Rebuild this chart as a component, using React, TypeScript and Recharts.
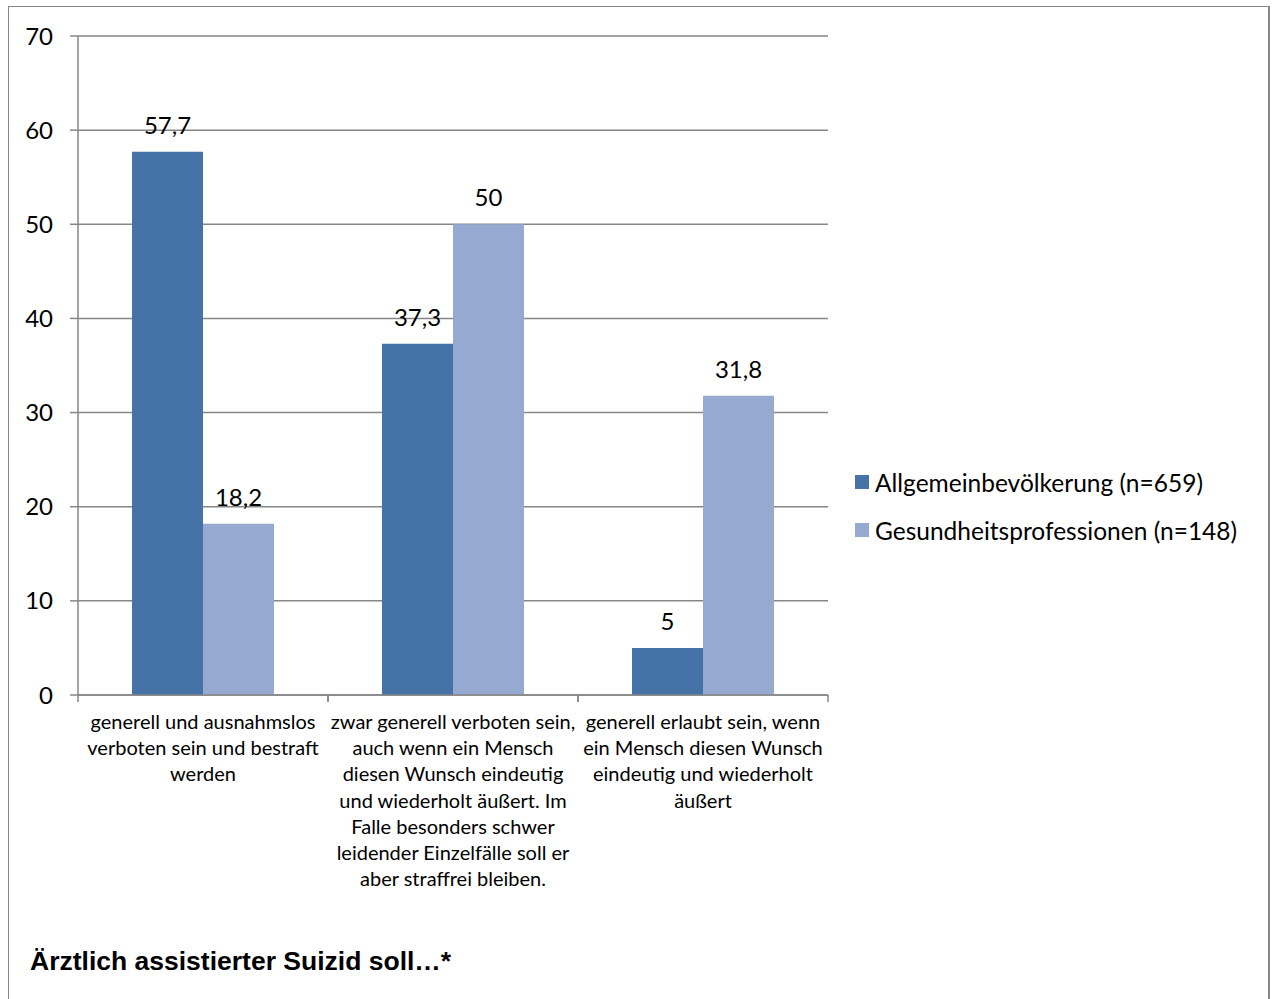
import React from 'react';
import { BarChart, Bar, XAxis, YAxis, CartesianGrid, LabelList } from 'recharts';

const categories = [
  'generell und ausnahmslos\nverboten sein und bestraft\nwerden',
  'zwar generell verboten sein,\nauch wenn ein Mensch\ndiesen Wunsch eindeutig\nund wiederholt äußert. Im\nFalle besonders schwer\nleidender Einzelfälle soll er\naber straffrei bleiben.',
  'generell erlaubt sein, wenn\nein Mensch diesen Wunsch\neindeutig und wiederholt\näußert',
];
const allgemein = [57.7, 37.3, 5];
const gesundheit = [18.2, 50, 31.8];
const yTicks = [0, 10, 20, 30, 40, 50, 60, 70];
const seriesNames = ['Allgemeinbevölkerung (n=659)', 'Gesundheitsprofessionen (n=148)'];
const title = 'Ärztlich assistierter Suizid soll…*';

const data = categories.map((c, i) => ({ cat: c, a: allgemein[i], b: gesundheit[i] }));

const W = 1273;
const H = 999;
const PLOT_LEFT = 78;
const PLOT_RIGHT = 828;
const COLORS = ['#4573A7', '#95A9D1'];
const GRID = '#868686';
const FONT = 'Lato, "Open Sans", sans-serif';

const halfBand = (PLOT_RIGHT - PLOT_LEFT) / categories.length / 2;

const CatTick = (props: any) => {
  const { x, y, payload } = props;
  const lines = String(payload.value).split('\n');
  return (
    <g>
      <line x1={x - halfBand} x2={x - halfBand} y1={y - 8} y2={y - 1} stroke={GRID} strokeWidth={1.5} />
      <line x1={x + halfBand} x2={x + halfBand} y1={y - 8} y2={y - 1} stroke={GRID} strokeWidth={1.5} />
      <text x={x} y={y} textAnchor="middle" fontSize={20} fontFamily={FONT} fill="#000">
        {lines.map((l, i) => (
          <tspan key={i} x={x} y={y + 26 + i * 26.2}>{l}</tspan>
        ))}
      </text>
    </g>
  );
};

const fmt = (v: any) => String(v).replace('.', ',');

export default function App() {
  return (
    <div style={{ position: 'fixed', left: 0, top: 0, width: W, height: H, background: '#fff', overflow: 'hidden' }}>
      <div style={{ position: 'absolute', left: 0, top: 0 }}>
        <BarChart
          width={W}
          height={H}
          data={data}
          margin={{ top: 36, right: W - PLOT_RIGHT, bottom: 104, left: 0 }}
          barGap={0}
          barCategoryGap={54}
        >
          <CartesianGrid vertical={false} stroke={GRID} strokeWidth={1.5} />
          <XAxis
            dataKey="cat"
            height={200}
            tick={<CatTick />}
            tickLine={false}
            axisLine={{ stroke: GRID, strokeWidth: 1.5 }}
            interval={0}
          />
          <YAxis
            width={PLOT_LEFT}
            domain={[0, 70]}
            ticks={yTicks}
            tickSize={8}
            tickMargin={17}
            tick={{ fontSize: 24, fill: '#000', fontFamily: FONT }}
            tickLine={{ stroke: GRID, strokeWidth: 1.5 }}
            axisLine={{ stroke: GRID, strokeWidth: 1.5 }}
            interval={0}
          />
          <Bar dataKey="a" name={seriesNames[0]} fill={COLORS[0]} isAnimationActive={false}>
            <LabelList dataKey="a" position="top" offset={18} formatter={fmt} fontSize={24} fill="#000" fontFamily={FONT} />
          </Bar>
          <Bar dataKey="b" name={seriesNames[1]} fill={COLORS[1]} isAnimationActive={false}>
            <LabelList dataKey="b" position="top" offset={18} formatter={fmt} fontSize={24} fill="#000" fontFamily={FONT} />
          </Bar>
        </BarChart>
      </div>
      <div style={{ position: 'absolute', left: 855, top: 458, fontFamily: FONT, fontSize: 24.5, color: '#000' }}>
        {seriesNames.map((n, i) => (
          <div key={n} style={{ display: 'flex', alignItems: 'center', height: 48, whiteSpace: 'nowrap' }}>
            <span style={{ display: 'inline-block', width: 14, height: 14, background: COLORS[i], marginRight: 6 }} />
            <span>{n}</span>
          </div>
        ))}
      </div>
      <div style={{ position: 'absolute', left: 30, top: 946, fontFamily: '"Liberation Sans", Arial, sans-serif', fontWeight: 'bold', fontSize: 26.5, color: '#000', whiteSpace: 'nowrap' }}>
        {title}
      </div>
      <div style={{ position: 'absolute', left: 8, top: 6, width: 1262, height: 1010, border: '1px solid #888', borderRightWidth: 2, boxSizing: 'border-box', pointerEvents: 'none' }} />
    </div>
  );
}
